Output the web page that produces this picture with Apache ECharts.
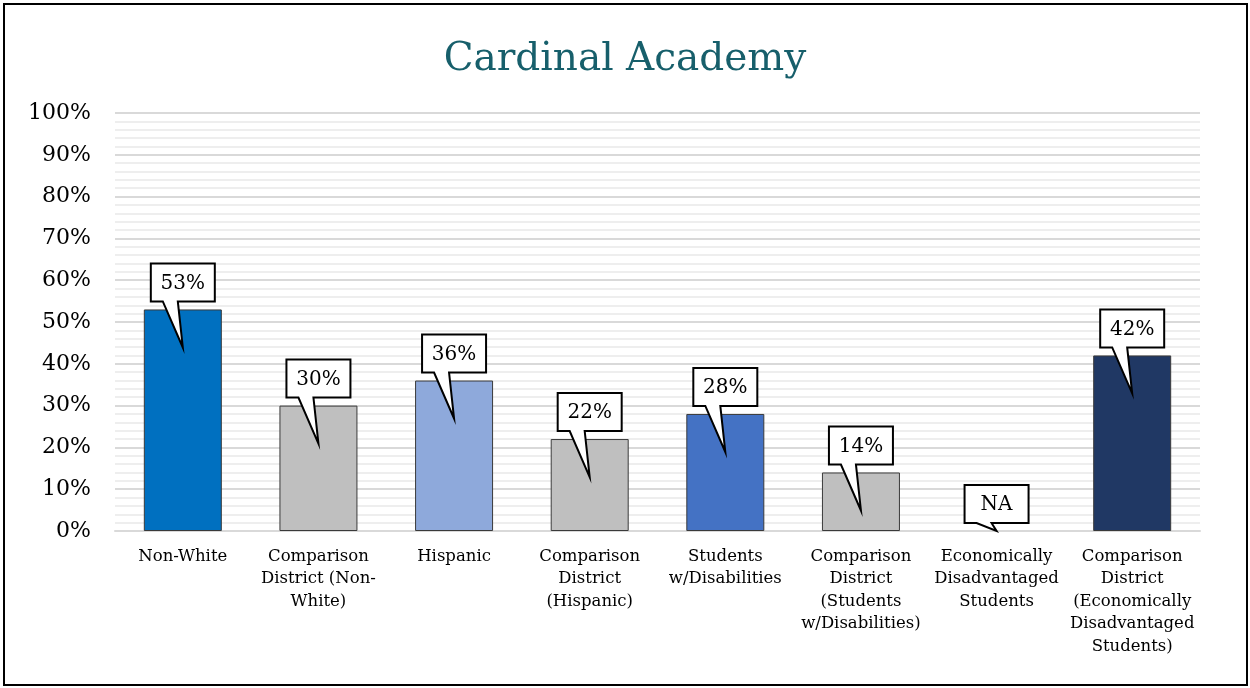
<!DOCTYPE html>
<html>
<head>
<meta charset="utf-8">
<title>Cardinal Academy</title>
<script src="https://cdn.jsdelivr.net/npm/echarts@6/dist/echarts.min.js"></script>
<style>
  html, body { margin: 0; padding: 0; background: #fff; }
  #chart { width: 1250px; height: 688px; }
</style>
</head>
<body>
<div id="chart"></div>
<script>
// categories as they wrap under the axis
const categories = [
  'Non-White',
  'Comparison\nDistrict (Non-\nWhite)',
  'Hispanic',
  'Comparison\nDistrict\n(Hispanic)',
  'Students\nw/Disabilities',
  'Comparison\nDistrict\n(Students\nw/Disabilities)',
  'Economically\nDisadvantaged\nStudents',
  'Comparison\nDistrict\n(Economically\nDisadvantaged\nStudents)'
]
// percent values, null = NA
const values = [53, 30, 36, 22, 28, 14, null, 42]
const barColors = ['#0070C0', '#BFBFBF', '#8EA9DB', '#BFBFBF', '#4472C4', '#BFBFBF', '#BFBFBF', '#203864']

const serif = '"DejaVu Serif", "Liberation Serif", serif'

const chart = echarts.init(document.getElementById('chart'))

// speech-bubble label drawn above each bar, pointer pokes into the bar
const renderCallout = (params, api) => {
  const idx = api.value(0)
  const val = values[idx]
  const top = api.coord([idx, val == null ? 0 : val])
  const base = api.coord([idx, 0])
  const x = top[0], y = top[1]
  const depth = Math.min(38, base[1] - y)
  const L = x - 32, R = x + 32, T = y - 46, B = y - 8
  const pts = [[L, T], [R, T], [R, B], [x - 5, B], [x, y + depth], [x - 20, B], [L, B]]
  return {
    type: 'group',
    children: [
      {
        type: 'polygon',
        shape: { points: pts },
        style: { fill: '#fff', stroke: '#000', lineWidth: 2 }
      },
      {
        type: 'text',
        style: {
          text: val == null ? 'NA' : val + '%',
          x: x, y: (T + B) / 2 + 1,
          align: 'center', verticalAlign: 'middle',
          fill: '#000', font: '20px ' + serif
        }
      }
    ]
  }
}

chart.setOption({
  backgroundColor: '#fff',
  animation: false,
  title: {
    text: 'Cardinal Academy',
    left: 'center',
    top: 35,
    textStyle: { color: '#175F6B', fontFamily: serif, fontSize: 39, fontWeight: 'normal' }
  },
  graphic: [
    {
      type: 'rect',
      shape: { x: 4, y: 4, width: 1243, height: 681 },
      style: { fill: 'none', stroke: '#000', lineWidth: 2 },
      z: 100
    }
  ],
  grid: { left: 115, right: 50, top: 113, bottom: 157 },
  xAxis: {
    type: 'category',
    data: categories,
    axisLine: { lineStyle: { color: '#D9D9D9', width: 2 } },
    axisTick: { show: false },
    axisLabel: {
      interval: 0,
      margin: 14,
      color: '#000',
      fontFamily: serif,
      fontSize: 16.5,
      lineHeight: 22.5
    }
  },
  yAxis: {
    type: 'value',
    min: 0,
    max: 100,
    interval: 10,
    axisLine: { show: false },
    axisTick: { show: false },
    axisLabel: {
      formatter: '{value}%',
      color: '#000',
      fontFamily: serif,
      fontSize: 22,
      margin: 24
    },
    splitLine: { lineStyle: { color: '#D9D9D9', width: 2 } },
    minorTick: { show: false, splitNumber: 5 },
    minorSplitLine: { show: true, lineStyle: { color: '#EEEEEE', width: 2 } }
  },
  series: [
    {
      type: 'bar',
      barWidth: 78,
      data: values.map((v, i) => ({
        value: v,
        itemStyle: { color: barColors[i], borderColor: '#3A3A3A', borderWidth: 1 }
      }))
    },
    {
      type: 'custom',
      renderItem: renderCallout,
      data: values.map((v, i) => [i, v == null ? 0 : v]),
      z: 10
    }
  ]
})
</script>
</body>
</html>
